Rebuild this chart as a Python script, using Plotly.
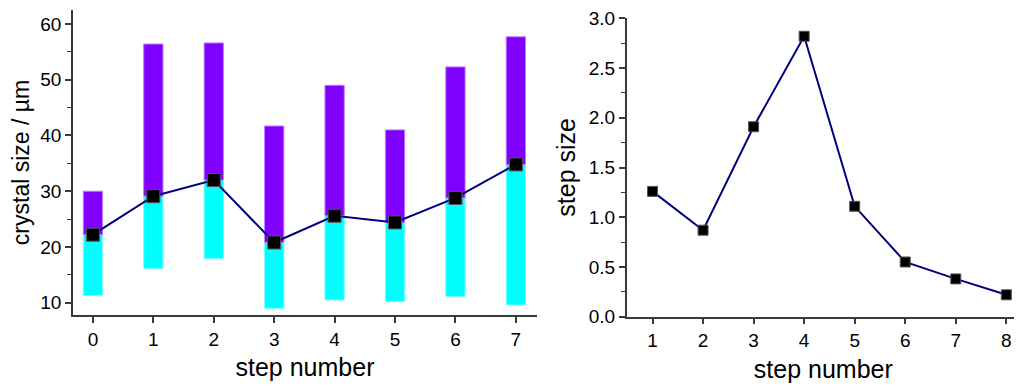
import plotly.graph_objects as go

steps = [0, 1, 2, 3, 4, 5, 6, 7]
size_low = [11.3, 16.1, 17.9, 9.0, 10.5, 10.2, 11.1, 9.6]
size_mean = [22.2, 29.1, 32.0, 20.8, 25.6, 24.4, 28.8, 34.8]
size_high = [30.0, 56.4, 56.6, 41.7, 49.0, 41.0, 52.3, 57.7]

step_numbers = [1, 2, 3, 4, 5, 6, 7, 8]
step_sizes = [1.26, 0.87, 1.91, 2.82, 1.11, 0.55, 0.38, 0.22]

FONT = "Liberation Sans, Arial, sans-serif"

fig = go.Figure()

fig.add_trace(go.Bar(
    x=steps, y=[m - l for m, l in zip(size_mean, size_low)], base=size_low,
    width=0.32, marker=dict(color="#00FFFF", line=dict(color="#80FFFF", width=1)),
    xaxis="x", yaxis="y", showlegend=False))
fig.add_trace(go.Bar(
    x=steps, y=[h - m for h, m in zip(size_high, size_mean)], base=size_mean,
    width=0.32, marker=dict(color="#8000FF", line=dict(color="#C080FF", width=1)),
    xaxis="x", yaxis="y", showlegend=False))
fig.add_trace(go.Scatter(
    x=steps, y=size_mean, mode="lines+markers",
    line=dict(color="#000080", width=2),
    marker=dict(symbol="square", size=13, color="black", line=dict(color="#555555", width=1)),
    xaxis="x", yaxis="y", showlegend=False))

fig.add_trace(go.Scatter(
    x=step_numbers, y=step_sizes, mode="lines+markers",
    line=dict(color="#000080", width=2),
    marker=dict(symbol="square", size=10, color="black", line=dict(color="#555555", width=1)),
    xaxis="x2", yaxis="y2", showlegend=False))


def axis(**kw):
    d = dict(
        showline=True, linecolor="#3a3a3a", linewidth=1.5, mirror=False,
        ticks="outside", ticklen=6, tickwidth=1.5, tickcolor="#3a3a3a",
        showgrid=False, zeroline=False, automargin=False,
        ticklabeloverflow="allow",
        tickfont=dict(family=FONT, size=19, color="black"),
    )
    d.update(kw)
    return d


fig.update_layout(
    width=1014, height=379,
    margin=dict(l=0, r=0, t=0, b=0),
    paper_bgcolor="white", plot_bgcolor="white",
    barmode="overlay",
    xaxis=axis(domain=[0.0641, 0.5217], range=[-0.33, 7.35], tickvals=steps,
               title=dict(text="step number", standoff=10,
                          font=dict(family=FONT, size=25, color="black")),
               anchor="y"),
    yaxis=axis(domain=[0.19, 0.9947], range=[7.8, 62.5], tickvals=[10, 20, 30, 40, 50, 60],
               title=dict(text="crystal size / µm", standoff=6,
                          font=dict(family=FONT, size=23, color="black")),
               anchor="x",
               minor=dict(ticks="outside", ticklen=4, tickwidth=1.2, tickcolor="#3a3a3a", dtick=5)),
    xaxis2=axis(domain=[0.6102, 0.998], range=[0.49, 8.27], tickvals=step_numbers,
                title=dict(text="step number", standoff=10,
                           font=dict(family=FONT, size=25, color="black")),
                anchor="y2"),
    yaxis2=axis(domain=[0.1855, 0.9735], range=[0, 3.003],
                tickvals=[0, 0.5, 1.0, 1.5, 2.0, 2.5, 3.0], tickformat=".1f",
                title=dict(text="step size", standoff=6,
                           font=dict(family=FONT, size=25, color="black")),
                anchor="x2",
                minor=dict(ticks="outside", ticklen=4, tickwidth=1.2, tickcolor="#3a3a3a", dtick=0.25)),
)

fig.write_html("out.html")
